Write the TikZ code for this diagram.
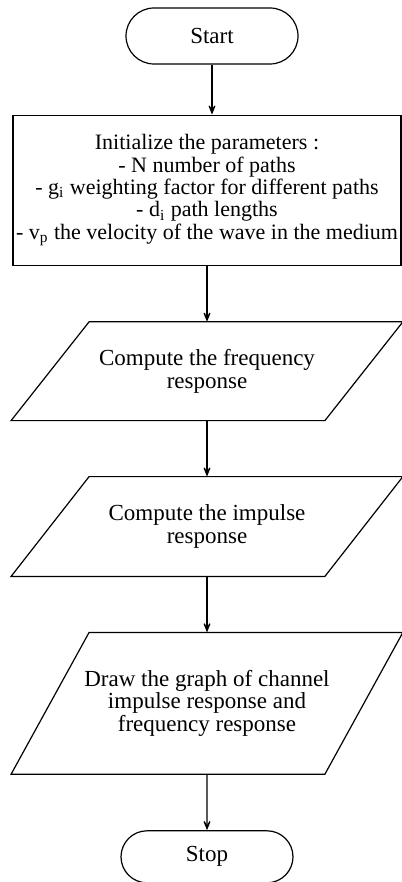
\documentclass[tikz,border=0pt]{standalone}
\usepackage{fontspec}
\setmainfont{Liberation Serif}
\usepackage{tikz}
\usetikzlibrary{arrows.meta,positioning,shapes.misc}
\tikzset{
  fc/terminal/.style={draw, rounded rectangle, line width=0.6pt, minimum width=88pt, minimum height=28pt, inner sep=1pt},
  fc/process/.style={draw, rectangle, line width=0.6pt, minimum width=194pt, minimum height=75pt, inner xsep=0.5pt, align=center,
    font=\fontsize{11}{11.2}\selectfont},
  fc/io/.style={rectangle, minimum width=156.5pt, inner sep=1pt, align=center},
  fc/line/.style={line width=0.6pt},
  fc/arrow/.style={fc/line, -{Stealth[length=8pt,width=6.5pt,inset=5.5pt]}}
}

\begin{document}
\begin{tikzpicture}[node distance=28pt, font=\fontsize{11.5}{11.2}\selectfont]
  \useasboundingbox (0,0) rectangle (200.5pt,-441pt);

  % Main flow
  \node[fc/terminal] (start) at (106pt,-18pt) {Start};
  \node[fc/process, below=25pt of start, xshift=-2.5pt] (init)
    {Initialize the parameters :\\- N number of paths\\- g\textsubscript{i} weighting factor for different paths\\- d\textsubscript{i} path lengths\\- v\textsubscript{p} the velocity of the wave in the medium};
  \node[fc/io, minimum height=49pt, below=of init] (freq) {Compute the frequency\\response};
  \node[fc/io, minimum height=49.5pt, below=of freq] (imp) {Compute the impulse\\response};
  \node[fc/io, minimum height=70.5pt, below=of imp] (graph) {Draw the graph of channel\\impulse response and\\frequency response};
  \node[fc/terminal, minimum height=26pt, below=of graph] (stop) {Stop};

  % Parallelogram outlines
  \foreach \n in {freq,imp,graph}
    \draw[fc/line] ([xshift=19.5pt]\n.north west) -- ([xshift=19.5pt]\n.north east)
      -- ([xshift=-19.5pt]\n.south east) -- ([xshift=-19.5pt]\n.south west) -- cycle;

  \draw[fc/arrow] (start.south) -- (start.south |- init.north);
  \draw[fc/arrow] (init) -- (freq);
  \draw[fc/arrow] (freq) -- (imp);
  \draw[fc/arrow] (imp) -- (graph);
  \draw[fc/arrow] (graph) -- (stop);
\end{tikzpicture}
\end{document}
